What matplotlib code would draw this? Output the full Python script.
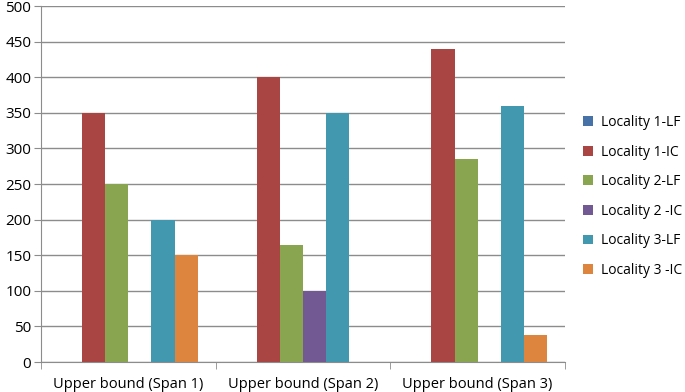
import matplotlib.pyplot as plt
import numpy as np

plt.rcParams['font.family'] = ['Open Sans', 'DejaVu Sans']

categories = ["Upper bound (Span 1)", "Upper bound (Span 2)", "Upper bound (Span 3)"]
series = ["Locality 1-LF", "Locality 1-IC", "Locality 2-LF", "Locality 2 -IC", "Locality 3-LF", "Locality 3 -IC"]
values = [
    [0, 0, 0],
    [350, 400, 440],
    [250, 165, 285],
    [0, 100, 0],
    [200, 350, 360],
    [150, 0, 38],
]
colors = ["#4672A8", "#A94543", "#8AA54F", "#735993", "#4198AF", "#DD843F"]

fig = plt.figure(figsize=(6.85, 3.92), dpi=100)
ax = fig.add_axes([41/685, 30/392, 524/685, 356/392])

x = np.arange(len(categories))
w = 0.1325
for i, (name, vals) in enumerate(zip(series, values)):
    ax.bar(x + (i - 2.5) * w, vals, w, color=colors[i], label=name, zorder=3)

ax.set_xlim(-0.5, 2.5)
ax.set_ylim(0, 500)
ax.set_yticks(range(0, 501, 50))
ax.grid(axis='y', color='#8c8c8c', linewidth=1, zorder=0)
ax.set_xticks(x)
ax.set_xticklabels(categories, fontsize=10.5)
ax.set_xticks([-0.5, 0.5, 1.5, 2.5], minor=True)
ax.tick_params(axis='x', which='major', length=0, pad=11)
ax.tick_params(axis='x', which='minor', length=5, color='#8c8c8c')
ax.tick_params(axis='y', length=5, color='#8c8c8c', labelsize=11, pad=2)
for s in ['top', 'right']:
    ax.spines[s].set_visible(False)
for s in ['left', 'bottom']:
    ax.spines[s].set_color('#8c8c8c')

ax.legend(loc='center left', bbox_to_anchor=(1.016, 0.465), frameon=False,
          fontsize=10, handlelength=0.7, handleheight=0.7, labelspacing=1.05,
          handletextpad=0.6, borderaxespad=0.3)

fig.savefig("out.png", dpi=100)
